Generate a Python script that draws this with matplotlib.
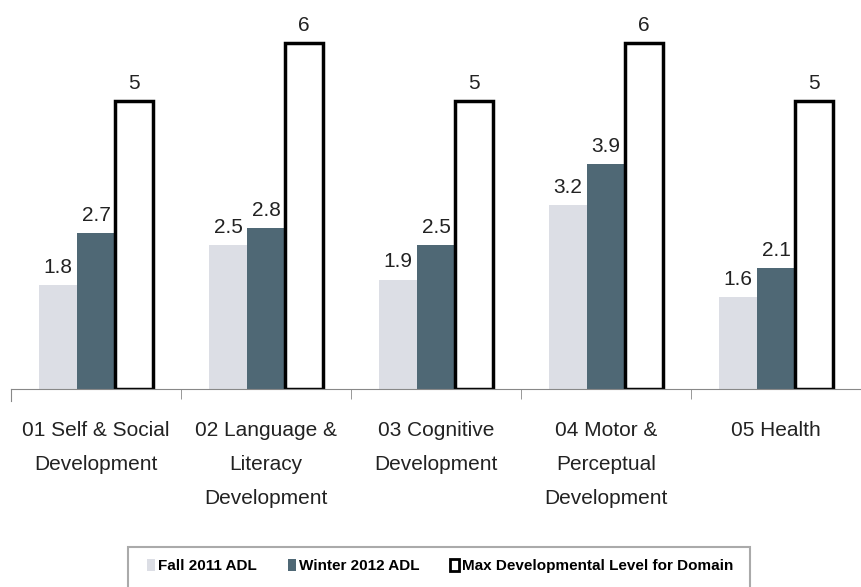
import numpy as np
import matplotlib.pyplot as plt
from matplotlib.patches import Patch, Rectangle

# --- Data ---
categories = ["01 Self & Social\nDevelopment", "02 Language &\nLiteracy\nDevelopment",
              "03 Cognitive\nDevelopment", "04 Motor &\nPerceptual\nDevelopment", "05 Health"]
fall_2011 = [1.8, 2.5, 1.9, 3.2, 1.6]
winter_2012 = [2.7, 2.8, 2.5, 3.9, 2.1]
max_level = [5, 6, 5, 6, 5]
series_names = ["Fall 2011 ADL", "Winter 2012 ADL", "Max Developmental Level for Domain"]

plt.rcParams['font.family'] = ['Liberation Sans', 'DejaVu Sans']

light = '#dcdee5'
dark = '#4f6875'

fig = plt.figure(figsize=(8.61, 5.87), dpi=100)
ax = fig.add_axes([11 / 861, 198 / 587, 850 / 861, 389 / 587])

x = np.arange(len(categories))
w = 0.223

b1 = ax.bar(x - w, fall_2011, w, color=light, edgecolor='none')
b2 = ax.bar(x, winter_2012, w, color=dark, edgecolor='none')
b3 = ax.bar(x + w, max_level, w, color='white', edgecolor='black', linewidth=2.5)

for bars, vals in [(b1, fall_2011), (b2, winter_2012), (b3, max_level)]:
    for b, v in zip(bars, vals):
        label = f"{v:g}" if isinstance(v, int) else f"{v:.1f}"
        ax.text(b.get_x() + b.get_width() / 2, v + 0.14, label,
                ha='center', va='bottom', fontsize=15, color='#222222')

ax.set_xlim(-0.5, 850 / 172 - 0.5)
ax.set_ylim(0, 6.75)
ax.set_yticks([])
for s in ['top', 'right']:
    ax.spines[s].set_visible(False)
ax.spines['left'].set_bounds(-0.2, 0)
ax.spines['left'].set_color('#888888')
ax.spines['bottom'].set_color('#888888')

ax.set_xticks(np.arange(len(categories) + 1) - 0.5, minor=True)
ax.tick_params(axis='x', which='minor', length=7, color='#888888')
ax.set_xticks(x)
ax.set_xticklabels(categories, fontsize=15, color='#222222', linespacing=2.0)
ax.tick_params(axis='x', which='major', length=0, pad=23)

handles = [Patch(facecolor=light, edgecolor='none'),
           Patch(facecolor=dark, edgecolor='none'),
           Patch(facecolor='white', edgecolor='black', linewidth=2)]
leg = fig.legend(handles, series_names, loc='center', bbox_to_anchor=(440 / 861, 1 - 566 / 587),
                 ncol=3, frameon=False, handlelength=0.55, handleheight=0.9, handletextpad=0.2,
                 columnspacing=2.0, prop={'weight': 'bold', 'size': 11})

# legend box (runs off the bottom of the picture)
fig.add_artist(Rectangle((128 / 861, -0.1), (750 - 128) / 861, 0.1 + 1 - 547 / 587,
                         transform=fig.transFigure, facecolor='none', edgecolor='#aaaaaa', lw=1.5))

fig.savefig("out.png", dpi=100)
